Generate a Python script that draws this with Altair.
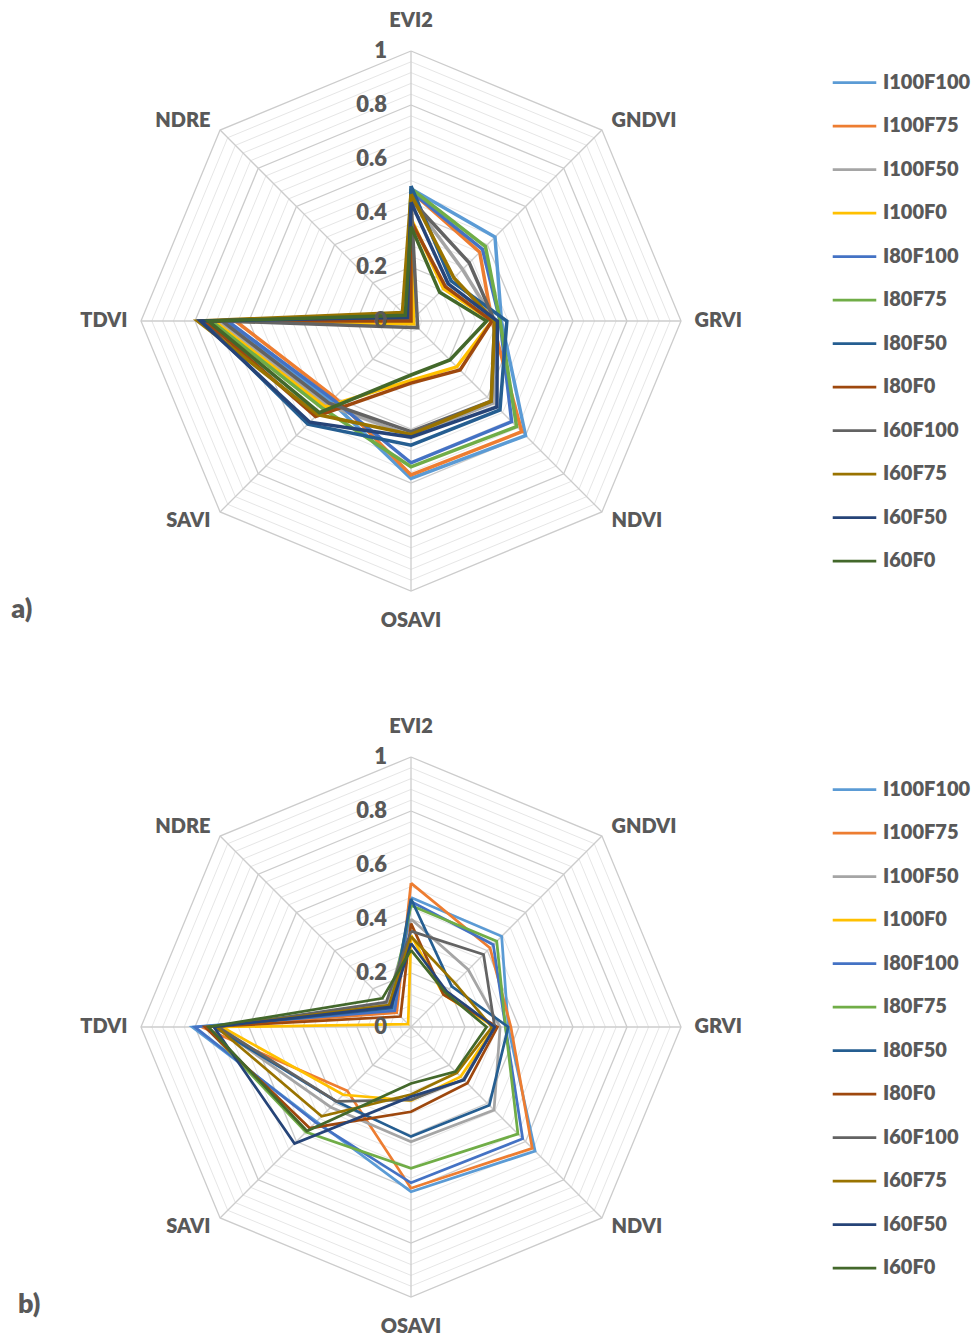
import altair as alt
import pandas as pd

# Vegetation indices on the radar spokes (clockwise from the top)
indices = ["EVI2", "GNDVI", "GRVI", "NDVI", "OSAVI", "SAVI", "TDVI", "NDRE"]
left_labels = ["GNDVI", "GRVI", "NDVI"]
right_labels = ["SAVI", "TDVI", "NDRE"]
center_labels = ["EVI2", "OSAVI"]

treatments = ["I100F100", "I100F75", "I100F50", "I100F0",
              "I80F100", "I80F75", "I80F50", "I80F0",
              "I60F100", "I60F75", "I60F50", "I60F0"]
colors = ["#5B9BD5", "#ED7D31", "#A5A5A5", "#FFC000",
          "#4472C4", "#70AD47", "#255E91", "#9E480E",
          "#636363", "#997300", "#264478", "#43682B"]

tick_values = [0, 0.2, 0.4, 0.6, 0.8, 1.0]
tick_labels = ["0", "0.2", "0.4", "0.6", "0.8", "1"]

# Panel a) values, one list per index, in treatment order
a_EVI2 = [0.49, 0.48, 0.45, 0.38, 0.48, 0.49, 0.50, 0.37, 0.45, 0.47, 0.44, 0.35]
a_GNDVI = [0.44, 0.36, 0.27, 0.17, 0.375, 0.39, 0.21, 0.18, 0.305, 0.225, 0.195, 0.15]
a_GRVI = [0.335, 0.30, 0.31, 0.30, 0.33, 0.33, 0.355, 0.30, 0.31, 0.31, 0.32, 0.28]
a_NDVI = [0.60, 0.58, 0.43, 0.24, 0.527, 0.553, 0.466, 0.257, 0.42, 0.42, 0.45, 0.204]
a_OSAVI = [0.583, 0.57, 0.425, 0.22, 0.525, 0.54, 0.46, 0.23, 0.41, 0.42, 0.43, 0.20]
a_SAVI = [0.42, 0.40, 0.44, 0.45, 0.41, 0.46, 0.54, 0.50, 0.43, 0.49, 0.53, 0.48]
a_TDVI = [0.69, 0.65, 0.71, 0.73, 0.68, 0.74, 0.77, 0.76, 0.70, 0.79, 0.78, 0.75]
a_NDRE = [0.005, -0.01, 0.0, -0.015, 0.01, 0.025, 0.015, 0.0, -0.035, 0.045, 0.02, 0.03]

# Panel b) values
b_EVI2 = [0.48, 0.533, 0.40, 0.34, 0.465, 0.45, 0.475, 0.384, 0.355, 0.335, 0.31, 0.285]
b_GNDVI = [0.475, 0.414, 0.30, 0.17, 0.431, 0.449, 0.213, 0.17, 0.38, 0.23, 0.187, 0.18]
b_GRVI = [0.36, 0.37, 0.33, 0.31, 0.35, 0.35, 0.36, 0.32, 0.31, 0.30, 0.31, 0.28]
b_NDVI = [0.65, 0.635, 0.435, 0.26, 0.585, 0.56, 0.41, 0.295, 0.275, 0.24, 0.278, 0.233]
b_OSAVI = [0.61, 0.597, 0.425, 0.273, 0.577, 0.523, 0.406, 0.314, 0.27, 0.25, 0.258, 0.209]
b_SAVI = [0.495, 0.334, 0.42, 0.355, 0.50, 0.55, 0.39, 0.53, 0.39, 0.468, 0.61, 0.545]
b_TDVI = [0.81, 0.775, 0.72, 0.70, 0.80, 0.76, 0.73, 0.763, 0.714, 0.72, 0.73, 0.75]
b_NDRE = [0.09, 0.075, 0.125, 0.015, 0.085, 0.11, 0.10, 0.055, 0.13, 0.115, 0.105, 0.15]

panel_a = [a_EVI2, a_GNDVI, a_GRVI, a_NDVI, a_OSAVI, a_SAVI, a_TDVI, a_NDRE]
panel_b = [b_EVI2, b_GNDVI, b_GRVI, b_NDVI, b_OSAVI, b_SAVI, b_TDVI, b_NDRE]

FONT = "Lato"
WEIGHT = 800
TEXT = "#595959"
W, H = 975, 668
R_PX = 270          # pixels per unit of radius
CX = 411            # horizontal centre of both radars


def series_frame(columns):
    rows = []
    n = len(indices)
    for s, name in enumerate(treatments):
        for step in range(n + 1):
            k = step % n
            rows.append({"treatment": name, "step": step, "k": k,
                         "value": columns[k][s]})
    return pd.DataFrame(rows)


def ring_frame():
    rows = []
    for j in range(1, 26):
        for step in range(len(indices) + 1):
            rows.append({"ring": j, "step": step, "k": step % len(indices),
                         "r": j / 25, "major": j % 5 == 0})
    return pd.DataFrame(rows)


def panel(columns, tag, cy, stroke_w, legend_y):
    xs = alt.Scale(domain=[-CX / R_PX, (W - CX) / R_PX], nice=False, zero=False)
    ys = alt.Scale(domain=[-(H - cy) / R_PX, cy / R_PX], nice=False, zero=False)
    X = lambda f: alt.X(f, type="quantitative", scale=xs, axis=None)
    Y = lambda f: alt.Y(f, type="quantitative", scale=ys, axis=None)

    rings = alt.Chart(ring_frame()).transform_calculate(
        gx="datum.r * sin(datum.k * PI / 4)",
        gy="datum.r * cos(datum.k * PI / 4)",
    )
    minor = rings.transform_filter("!datum.major").mark_line(
        color="#E6E6E6", strokeWidth=1
    ).encode(x=X("gx"), y=Y("gy"), detail="ring:N", order="step:Q")
    major = rings.transform_filter("datum.major").mark_line(
        color="#CCCCCC", strokeWidth=1.3
    ).encode(x=X("gx"), y=Y("gy"), detail="ring:N", order="step:Q")

    spoke_df = pd.DataFrame({"k": list(range(len(indices)))})
    spokes = alt.Chart(spoke_df).transform_calculate(
        x0="0", y0="0",
        x1="sin(datum.k * PI / 4)", y1="cos(datum.k * PI / 4)",
    ).mark_rule(color="#CCCCCC", strokeWidth=1.3).encode(
        x=X("x0"), y=Y("y0"), x2="x1:Q", y2="y1:Q"
    )

    lines = alt.Chart(series_frame(columns)).transform_calculate(
        px="datum.value * sin(datum.k * PI / 4)",
        py="datum.value * cos(datum.k * PI / 4)",
    ).mark_line(strokeWidth=stroke_w).encode(
        x=X("px"), y=Y("py"), order="step:Q",
        color=alt.Color(
            "treatment:N", sort=treatments, title=None,
            scale=alt.Scale(domain=treatments, range=colors),
            legend=alt.Legend(
                orient="none", legendX=831, legendY=legend_y, padding=0,
                symbolType="stroke", symbolSize=1897, symbolStrokeWidth=2.75,
                rowPadding=9.5, labelOffset=5, labelFont=FONT, labelFontSize=20,
                labelFontWeight=WEIGHT, labelColor=TEXT, labelLimit=200,
            ),
        ),
    )

    tick_df = pd.DataFrame({"v": tick_values, "label": tick_labels})
    ticks = alt.Chart(tick_df).transform_calculate(tx="0").mark_text(
        align="right", baseline="middle", dx=-24, font=FONT, fontSize=22,
        fontWeight=WEIGHT, color=TEXT
    ).encode(x=X("tx"), y=Y("v"), text="label:N")

    lab_df = pd.DataFrame({"name": indices, "k": list(range(len(indices)))})
    labs = alt.Chart(lab_df)

    def lab_layer(names, radius, align):
        return labs.transform_filter(
            alt.FieldOneOfPredicate(field="name", oneOf=names)
        ).transform_calculate(
            lx=f"{radius} * sin(datum.k * PI / 4)",
            ly=f"{radius} * cos(datum.k * PI / 4)",
        ).mark_text(
            align=align, baseline="middle", font=FONT, fontSize=20,
            fontWeight=WEIGHT, color=TEXT
        ).encode(x=X("lx"), y=Y("ly"), text="name:N")

    cat_labels = (lab_layer(center_labels, 1.11, "center")
                  + lab_layer(left_labels, 1.05, "left")
                  + lab_layer(right_labels, 1.05, "right"))

    tag_df = pd.DataFrame({"tag": [tag["text"]], "tx": [tag["x"]], "ty": [tag["y"]]})
    tag_text = alt.Chart(tag_df).mark_text(
        align="left", baseline="middle", font=FONT, fontSize=27,
        fontWeight=WEIGHT, color=TEXT
    ).encode(x=X("tx"), y=Y("ty"), text="tag:N")

    return alt.layer(minor, major, spokes, lines, ticks, cat_labels, tag_text).properties(
        width=W, height=H
    )


chart_a = panel(panel_a, {"text": "a)", "x": -1.481, "y": -1.07}, 321, 3.5, 59)
chart_b = panel(panel_b, {"text": "b)", "x": -1.456, "y": -1.03}, 359, 2.75, 98)

chart = alt.vconcat(chart_a, chart_b, spacing=0).resolve_scale(
    color="independent"
).properties(padding=0, background="white").configure_view(strokeWidth=0)

chart.save("out.html", embed_options={"renderer": "svg", "actions": False})
